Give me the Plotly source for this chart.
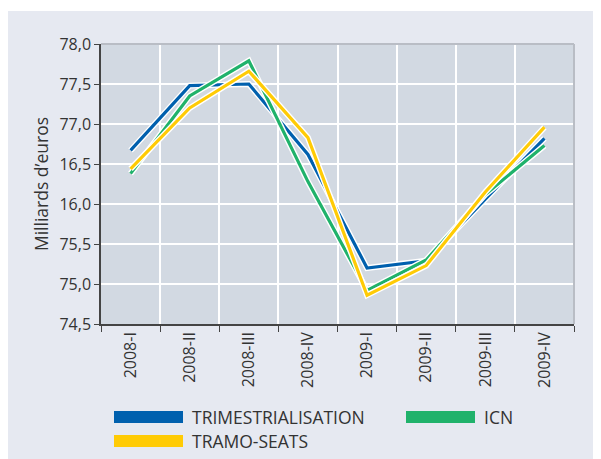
import plotly.graph_objects as go

categories = ["2008-I", "2008-II", "2008-III", "2008-IV", "2009-I", "2009-II", "2009-III", "2009-IV"]
trimestrialisation = [76.67, 77.48, 77.50, 76.62, 75.20, 75.29, 76.06, 76.82]
icn = [76.38, 77.35, 77.79, 76.28, 74.92, 75.30, 76.12, 76.73]
tramo_seats = [76.44, 77.20, 77.66, 76.83, 74.86, 75.23, 76.15, 76.96]
series_names = ["TRIMESTRIALISATION", "ICN", "TRAMO-SEATS"]
series_colors = ["#0060ae", "#20b26b", "#ffcb05"]
y_tickvals = [74.5, 75.0, 75.5, 76.0, 76.5, 77.0, 77.5, 78.0]
y_ticktext = ["74,5", "75,0", "75,5", "16,0", "16,5", "77,0", "77,5", "78,0"]

# page offset from the html body margin
OX, OY = 8, 8
W, H = 601, 459
# plot area in page pixels
L, R, T, B = 101 - OX, 574 - OX, 44 - OY, 324 - OY
FONT = "Open Sans"
TXT = "#333333"

def px_x(px):
    return (px - OX - L) / (R - L)

def px_y(py):
    return (B - (py - OY)) / (B - T)

fig = go.Figure()
data = [trimestrialisation, icn, tramo_seats]
for name, vals, col in zip(series_names, data, series_colors):
    fig.add_trace(go.Scatter(x=categories, y=vals, mode="lines",
                             line=dict(color="white", width=6), showlegend=False,
                             hoverinfo="skip"))
    fig.add_trace(go.Scatter(x=categories, y=vals, mode="lines", name=name,
                             line=dict(color=col, width=3.2), showlegend=False))

shapes = []
# thin white strip at very top (page y 8..11)
shapes.append(dict(type="rect", xref="paper", yref="paper", x0=px_x(0), x1=px_x(W + 20),
                   y0=px_y(11), y1=px_y(6), fillcolor="white", line_width=0, layer="below"))
# top and right borders
shapes.append(dict(type="line", xref="paper", yref="paper", x0=0, x1=1, y0=1, y1=1,
                   line=dict(color="#b9bdc5", width=2)))
shapes.append(dict(type="line", xref="paper", yref="paper", x0=1, x1=1, y0=0, y1=1,
                   line=dict(color="#b9bdc5", width=2)))

annotations = []
legend_pos = [(114, 411), (406, 411), (114, 435)]
for (sx, sy), name, col in zip(legend_pos, series_names, series_colors):
    shapes.append(dict(type="rect", xref="paper", yref="paper", x0=px_x(sx), x1=px_x(sx + 69),
                       y0=px_y(sy + 12), y1=px_y(sy), fillcolor=col, line_width=0))
    annotations.append(dict(xref="paper", yref="paper", x=px_x(sx + 76), y=px_y(sy + 6),
                            text=name, showarrow=False, xanchor="left", yanchor="middle",
                            font=dict(family=FONT, size=17.5, color=TXT)))

fig.update_layout(
    width=W, height=H,
    margin=dict(l=L, r=W - R, t=T, b=H - B, autoexpand=False),
    paper_bgcolor="#e6e9f1",
    plot_bgcolor="#d2d9e2",
    shapes=shapes,
    annotations=annotations,
    showlegend=False,
    xaxis=dict(type="category", tickson="boundaries", ticks="outside", ticklen=6,
               tickcolor="#444444", showgrid=True, gridcolor="white", gridwidth=1.5,
               showline=True, linecolor="#444444", linewidth=1.5, tickangle=-90,
               tickfont=dict(family=FONT, size=16, color=TXT), range=[-0.5, 7.5]),
    yaxis=dict(range=[74.5, 78.0], tickvals=y_tickvals, ticktext=y_ticktext,
               ticks="outside", ticklen=5, tickcolor="#444444",
               showgrid=True, gridcolor="white", gridwidth=1.5, zeroline=False,
               showline=True, linecolor="#444444", linewidth=1.5,
               tickfont=dict(family=FONT, size=16, color=TXT),
               title=dict(text="Milliards d’euros", standoff=6,
                          font=dict(family=FONT, size=17.5, color=TXT))),
)

fig.write_html("out.html")
